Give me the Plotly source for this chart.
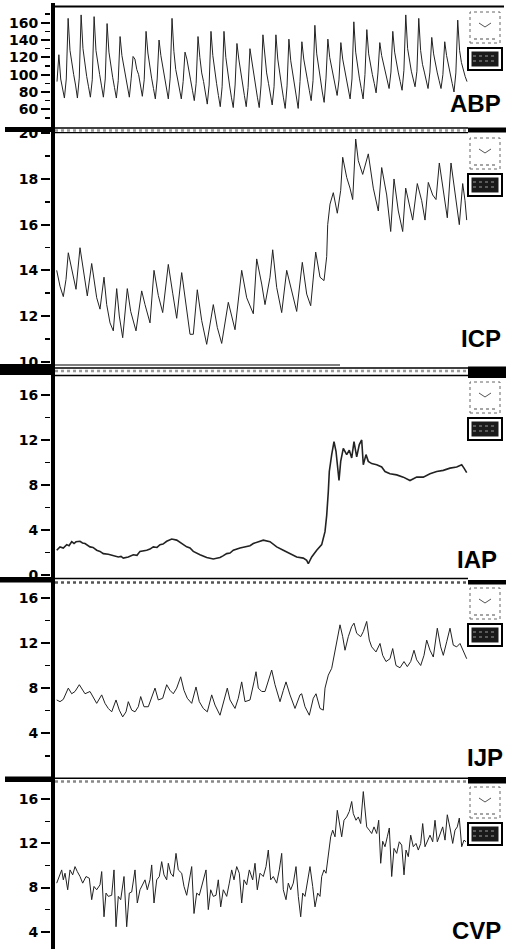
import numpy as np
import plotly.graph_objects as go

W, H = 506, 949

# ---------------- data ----------------
# ABP: evenly sampled pulse waveform, 5 samples of a partial first beat then 7 per beat
abp_values = [
    92, 123, 95, 82, 73,
    95, 165, 128, 112, 100, 88, 73,
    96, 169, 130, 110, 98, 86, 74,
    94, 167, 128, 112, 100, 87, 74,
    95, 159, 126, 108, 97, 85, 73,
    93, 144, 122, 110, 99, 86, 74,
    96, 121, 118, 106, 100, 88, 75,
    94, 150, 125, 108, 96, 84, 72,
    95, 140, 122, 110, 98, 85, 72,
    96, 165, 127, 106, 95, 83, 72,
    92, 126, 118, 104, 94, 82, 70,
    90, 144, 120, 102, 92, 80, 66,
    88, 150, 122, 104, 90, 76, 63,
    86, 150, 120, 100, 88, 74, 62,
    88, 136, 118, 102, 90, 76, 63,
    85, 130, 115, 100, 88, 74, 62,
    88, 146, 120, 102, 90, 77, 65,
    86, 146, 118, 100, 88, 74, 61,
    87, 141, 116, 101, 89, 75, 61,
    92, 138, 118, 104, 94, 82, 70,
    93, 157, 124, 106, 95, 80, 68,
    96, 141, 120, 108, 98, 86, 76,
    94, 137, 118, 106, 96, 84, 72,
    95, 161, 126, 108, 96, 84, 72,
    100, 152, 124, 110, 100, 90, 79,
    102, 137, 122, 112, 104, 94, 84,
    103, 150, 126, 112, 102, 92, 82,
    105, 169, 130, 114, 104, 95, 86,
    104, 165, 128, 112, 103, 93, 84,
    103, 143, 124, 112, 102, 93, 84,
    100, 138, 122, 110, 100, 90, 80,
    102, 163, 128, 114, 104, 98, 92,
]
abp_t_start, abp_t_end = 2, 412

# (time, value) samples
icp_samples = [
    (1.7, 14.0), (5, 13.3), (8.3, 12.85), (11, 13.6), (13.3, 14.77), (16.7, 14.0), (19, 13.6),
    (21, 13.17), (25, 14.99), (28.3, 14.0), (32.3, 12.88), (36.7, 14.3), (39.3, 13.5), (41.7, 12.8),
    (45, 12.3), (49, 13.7), (51.7, 12.5), (55, 11.7), (58.3, 11.35), (61.7, 13.2), (64.3, 12.0),
    (67.7, 11.05), (72.3, 13.2), (75.7, 12.2), (81, 11.35), (86.7, 13.1), (90, 12.5), (95, 11.7),
    (99, 14.0), (103.3, 12.9), (107.7, 12.15), (113.3, 14.26), (117.7, 13.0), (121.7, 11.9),
    (126.7, 13.9), (131, 12.5), (135, 11.2), (138.3, 11.2), (142.3, 13.15), (146.7, 11.8),
    (151.7, 10.76), (158.3, 12.5), (162.3, 11.5), (166.7, 10.8), (173.3, 12.6), (176.7, 12.0),
    (180, 11.4), (186.7, 14.0), (191.7, 12.8), (198.3, 12.1), (201.7, 14.5), (206.7, 13.4),
    (210, 12.5), (215, 13.7), (217.7, 14.9), (221.7, 13.25), (226.7, 12.15), (231.7, 14.0),
    (236.7, 13.1), (241.7, 12.2), (247.3, 14.35), (251.7, 12.96), (255.7, 12.45), (260.7, 14.8),
    (265, 13.7), (269, 13.55), (271.7, 14.6), (272.7, 16.0), (275, 16.9), (278.3, 17.4),
    (282.3, 16.5), (285.7, 17.5), (287.7, 18.95), (291.7, 18.07), (295, 17.6), (297.7, 17.1),
    (300.7, 19.75), (303.3, 18.8), (307.7, 18.2), (313.3, 19.1), (318.3, 17.6), (323.3, 16.6),
    (326.7, 18.5), (331.7, 17.3), (335.7, 15.7), (339, 18.0), (343.3, 16.6), (347.7, 15.7),
    (350.7, 17.6), (354.3, 16.8), (357.7, 16.2), (362.3, 17.8), (366.7, 17.05), (370, 16.2),
    (373.3, 17.85), (377.7, 17.3), (381, 17.1), (384.3, 18.7), (388.3, 17.5), (392.3, 16.3),
    (396, 18.7), (400, 17.5), (404.3, 16.0), (407.7, 17.8), (410, 17.05), (411.7, 16.2),
]

iap_samples = [
    (1.7, 2.2), (5, 2.5), (8.3, 2.4), (11.7, 2.7), (14, 2.6), (16.7, 2.96), (19, 2.8), (21, 2.95),
    (25, 3.0), (27.5, 2.85), (30, 2.8), (35, 2.5), (38, 2.45), (41.7, 2.2), (45, 2.1), (48.3, 1.9),
    (53.3, 1.85), (58.3, 1.7), (63.3, 1.6), (66, 1.65), (68.3, 1.5), (73.3, 1.6), (78.3, 1.8),
    (82, 1.75), (85, 2.1), (91.7, 2.2), (95, 2.3), (98.3, 2.5), (102, 2.45), (105, 2.7), (108, 2.75),
    (111.7, 3.0), (116.7, 3.2), (121.7, 3.1), (126.7, 2.8), (131.7, 2.5), (135, 2.4), (138.3, 2.1),
    (145, 1.8), (151.7, 1.55), (158.3, 1.42), (165, 1.55), (168, 1.7), (171.7, 1.9), (175, 1.95),
    (178.3, 2.2), (185, 2.4), (191.7, 2.5), (195, 2.6), (198.3, 2.8), (203.3, 2.96), (208.3, 3.1),
    (215, 2.96), (221.7, 2.5), (228.3, 2.2), (235, 1.9), (241.7, 1.6), (248.3, 1.5), (251.7, 1.3),
    (253.3, 1.0), (256.7, 1.6), (261.7, 2.2), (266.7, 2.7), (270, 3.85), (271.7, 5.3), (273.3, 7.4),
    (274.3, 9.2), (276.7, 10.7), (279, 11.85), (281, 11.0), (282.3, 9.5), (284, 8.4), (285.7, 10.1),
    (288.3, 11.26), (291.7, 10.7), (294.3, 11.1), (296.7, 10.4), (299, 11.85), (301.7, 10.5),
    (304.3, 11.6), (306.7, 12.0), (308.3, 9.8), (311, 10.7), (313.3, 10.1), (316.7, 9.9),
    (321.7, 9.8), (326.7, 9.6), (330, 9.2), (335, 9.0), (341.7, 8.9), (348.3, 8.7), (355, 8.4),
    (361.7, 8.7), (368.3, 8.7), (375, 9.0), (381.7, 9.2), (388.3, 9.3), (395, 9.5), (401.7, 9.6),
    (406.7, 9.8), (409, 9.5), (411.7, 9.1),
]

ijp_samples = [
    (1.7, 6.95), (5, 6.8), (8.3, 7.0), (11.7, 7.8), (13.3, 8.0), (16.7, 7.5), (20, 7.7), (24.3, 8.3),
    (26.7, 8.0), (30, 7.5), (35, 7.7), (38.3, 7.2), (41.7, 6.65), (46.7, 7.4), (50, 6.65), (53.3, 6.2),
    (56.7, 5.9), (61, 6.95), (64.3, 6.05), (67.7, 5.45), (71, 5.9), (73.3, 6.8), (76.7, 6.05),
    (80, 5.9), (83.3, 6.35), (85.7, 7.25), (89, 6.35), (93.3, 6.35), (97.7, 7.4), (100, 8.0),
    (103.3, 6.95), (107.7, 7.1), (111.7, 8.3), (115, 7.8), (118.3, 7.5), (121.7, 8.0), (125.7, 9.0),
    (129, 7.8), (132.3, 7.1), (136.7, 6.65), (141, 8.1), (144.3, 6.8), (148.3, 6.2), (152.3, 5.9),
    (156.7, 7.4), (160, 6.5), (165, 5.6), (170, 7.1), (172.3, 8.0), (175, 6.95), (180, 6.2),
    (183.3, 7.1), (186.7, 8.55), (190, 6.8), (195, 6.95), (199, 8.55), (201, 9.45), (203.3, 8.0),
    (206.7, 7.7), (210, 7.7), (213.3, 8.55), (216.7, 9.6), (220, 8.3), (225, 6.8), (228.3, 7.8),
    (231, 8.55), (235, 7.4), (240, 6.2), (245, 7.4), (246.7, 7.5), (250, 6.35), (254.3, 5.6),
    (258.3, 7.1), (261, 7.5), (265, 6.2), (268.3, 6.05), (270, 8.0), (273.3, 9.15), (276.7, 9.75),
    (280, 11.35), (282.3, 12.1), (285, 13.6), (287.7, 12.55), (290, 11.35), (293.3, 12.55),
    (296.7, 13.45), (299, 13.75), (301.7, 12.85), (305.7, 12.55), (308.3, 13.0), (311.7, 13.9),
    (314.3, 12.25), (316.7, 11.65), (321, 11.2), (325, 11.95), (327.7, 10.9), (331, 10.35),
    (335, 10.6), (337.7, 11.5), (341, 10.0), (345, 9.8), (349, 10.35), (352.3, 9.9), (355.7, 10.35),
    (359, 11.35), (361.7, 10.5), (365.7, 10.0), (369, 10.9), (371.7, 12.25), (375, 11.35),
    (378.3, 10.75), (382.3, 13.3), (385.7, 11.65), (388.3, 10.9), (391.7, 12.1), (395, 13.3),
    (398.3, 11.8), (401.7, 11.65), (405, 11.95), (408.3, 11.2), (411.7, 10.6),
]

cvp_samples = [
    (1.7, 8.4), (4.3, 9.0), (6.7, 9.6), (8.3, 8.7), (10, 9.3), (12.7, 7.8), (15, 9.6), (17.7, 9.15),
    (20, 9.9), (22.3, 9.45), (25, 9.0), (27.7, 8.4), (31, 9.0), (34.3, 8.85), (36.7, 6.9), (39, 8.1),
    (41.7, 7.8), (45, 8.25), (46.7, 9.45), (49, 5.35), (51, 7.5), (53.3, 7.2), (56.7, 7.3), (59, 9.6),
    (61, 4.45), (63.3, 7.2), (65.7, 6.9), (69, 9.0), (71.7, 4.45), (74.3, 7.5), (76.7, 7.6), (80, 9.6),
    (82.3, 6.6), (85, 7.8), (87.7, 8.25), (90, 8.7), (92.3, 7.8), (95, 8.7), (96.7, 10.05), (99, 6.6),
    (101.7, 8.7), (104.3, 9.0), (106.7, 10.35), (109, 9.15), (111.7, 8.7), (113.3, 10.2),
    (115.7, 9.3), (118.3, 9.0), (121, 11.1), (123.3, 9.6), (126.7, 9.3), (129, 8.1), (131.7, 7.3),
    (134.3, 8.55), (136.7, 9.9), (139, 5.65), (141.7, 7.5), (144.3, 7.3), (147.7, 8.4), (151, 9.6),
    (153.3, 6.0), (155.7, 7.8), (158.3, 7.2), (161, 7.3), (163.3, 8.7), (165.7, 6.25), (168.3, 7.8),
    (171.7, 7.2), (174.3, 8.4), (176.7, 9.6), (179, 8.7), (181.7, 9.9), (184.3, 9.3), (186.7, 6.6),
    (189, 8.7), (191.7, 8.25), (194.3, 9.6), (197.7, 8.7), (200, 10.2), (202.3, 7.8), (205, 9.3),
    (208.3, 9.0), (211, 9.9), (213.3, 11.4), (215.7, 8.7), (218.3, 9.0), (221.7, 8.4), (224.3, 9.6),
    (226.7, 11.1), (228.3, 7.8), (231, 6.9), (233.3, 8.4), (235.7, 7.8), (238.3, 8.4), (241, 9.9),
    (243.3, 7.2), (245.7, 5.35), (247.7, 7.5), (250, 7.2), (252.3, 8.4), (255, 9.9), (257.7, 8.1),
    (260, 6.25), (262.7, 7.5), (265, 7.2), (266.7, 9.0), (269, 9.6), (271, 9.3), (273.3, 11.1),
    (275.7, 12.6), (277.7, 13.2), (280, 12.6), (282.3, 15.0), (284.3, 13.8), (286.7, 12.6),
    (289, 14.1), (291.7, 14.4), (294.3, 14.9), (296.7, 15.8), (298.3, 14.7), (301, 14.1),
    (303.3, 14.4), (305.7, 13.8), (308.3, 16.7), (310, 14.7), (311.7, 13.5), (314.3, 13.2),
    (316.7, 12.9), (319, 13.5), (321.7, 12.9), (323.7, 14.1), (325.7, 10.2), (327.7, 12.2),
    (330, 11.7), (332.3, 12.6), (334.3, 13.4), (336.7, 9.0), (339, 11.55), (341.7, 11.1),
    (344.3, 12.15), (346.7, 11.85), (349, 9.15), (351, 11.4), (353.3, 10.8), (355.7, 12.75),
    (358.3, 11.7), (361, 12.0), (363.3, 11.4), (365.7, 12.0), (367.7, 13.8), (370, 11.7),
    (372.3, 12.15), (375, 12.75), (377.7, 12.15), (380, 14.1), (382.3, 12.15), (385, 12.9),
    (387.7, 13.5), (390, 12.3), (392.3, 14.6), (395, 13.4), (397.7, 12.0), (400, 13.2),
    (402.3, 13.5), (404.3, 14.3), (406.7, 11.7), (409, 12.3), (411, 12.15),
]

abp_ticks = [60, 80, 100, 120, 140, 160]
abp_minor = [50, 70, 90, 110, 130, 150, 170]
icp_ticks = [10, 12, 14, 16, 18, 20]
icp_minor = [11, 13, 15, 17, 19]
iap_ticks = [0, 4, 8, 12, 16]
iap_minor = [2, 6, 10, 14]
ijp_ticks = [4, 8, 12, 16]
ijp_minor = [2, 6, 10, 14]
cvp_ticks = [4, 8, 12, 16]
cvp_minor = [6, 10, 14]

labels = ["ABP", "ICP", "IAP", "IJP", "CVP"]

# ---------------- layout helpers ----------------
def X(px):
    return px / W

def Y(py):
    return 1 - py / H

abp_t = np.linspace(abp_t_start, abp_t_end, len(abp_values))
series = [
    (abp_t, abp_values),
    tuple(map(list, zip(*icp_samples))),
    tuple(map(list, zip(*iap_samples))),
    tuple(map(list, zip(*ijp_samples))),
    tuple(map(list, zip(*cvp_samples))),
]

# panel geometry (pixels): top, bottom, calibration (value_a, px_a, value_b, px_b)
panels = [
    dict(top=7, bottom=127.5, cal=(160, 22.7, 60, 109.3), ticks=abp_ticks, minor=abp_minor,
         lab_y=103.5, lab_x=503, width=1.0),
    dict(top=132.5, bottom=364.5, cal=(20, 133.3, 10, 361.7), ticks=icp_ticks, minor=icp_minor,
         lab_y=338.5, lab_x=503, width=1.0),
    dict(top=375, bottom=578, cal=(16, 395, 0, 575), ticks=iap_ticks, minor=iap_minor,
         lab_y=559, lab_x=499, width=1.6),
    dict(top=581, bottom=778, cal=(16, 597.7, 4, 733.3), ticks=ijp_ticks, minor=ijp_minor,
         lab_y=757.5, lab_x=505, width=1.0),
    dict(top=781, bottom=949, cal=(16, 799.3, 4, 931.7), ticks=cvp_ticks, minor=cvp_minor,
         lab_y=930, lab_x=503, width=1.0),
]

X0, X1 = 51, 468           # plot area in px
T0 = 55                    # time 0 at this px

fig = go.Figure()
layout = dict(
    width=W, height=H, margin=dict(l=0, r=0, t=0, b=0, autoexpand=False),
    paper_bgcolor="white", plot_bgcolor="white", showlegend=False,
)

tickfont = dict(family="DejaVu Sans", size=14, color="black", weight="bold")

for i, (p, (t, v)) in enumerate(zip(panels, series)):
    n = "" if i == 0 else str(i + 1)
    va, pa, vb, pb = p["cal"]
    k = (pb - pa) / (va - vb)
    ytop = va + (pa - p["top"]) / k
    ybot = vb - (p["bottom"] - pb) / k
    fig.add_trace(go.Scatter(
        x=t, y=v, mode="lines", xaxis="x" + n, yaxis="y" + n,
        line=dict(color="#222222", width=p["width"]), hoverinfo="skip",
    ))
    layout["xaxis" + n] = dict(
        domain=[X(X0), X(X1)], range=[X0 - T0, X1 - T0], visible=False,
        anchor="y" + n, fixedrange=True,
    )
    layout["yaxis" + n] = dict(
        domain=[Y(p["bottom"]), Y(p["top"])], range=[ybot, ytop], anchor="x" + n,
        showgrid=False, zeroline=False, showline=False, automargin=False,
        tickmode="array", tickvals=p["ticks"], ticks="outside", ticklen=9,
        tickwidth=2, tickcolor="black", tickfont=tickfont,
        minor=dict(tickmode="array", tickvals=p["minor"], ticks="outside", ticklen=5,
                   tickwidth=1.5, tickcolor="black", showgrid=False),
    )

shapes = []

def rect(x0, y0, x1, y1, fill="black", lc=None, lw=0, dash="solid"):
    shapes.append(dict(type="rect", xref="paper", yref="paper", x0=X(x0), x1=X(x1),
                       y0=Y(y1), y1=Y(y0), fillcolor=fill, layer="above",
                       line=dict(color=lc or fill, width=lw, dash=dash)))

def hline(y, x0, x1, w=1.5, color="black", dash="solid"):
    shapes.append(dict(type="line", xref="paper", yref="paper", x0=X(x0), x1=X(x1),
                       y0=Y(y), y1=Y(y), layer="above",
                       line=dict(color=color, width=w, dash=dash)))

# left axis spine
rect(51, 3, 55, 949)
# top frame line
hline(6.5, 51, 504, 2)

# ABP / ICP separator
rect(5, 127, 55, 132)
hline(128, 55, 468, 1.5)
hline(130.5, 55, 468, 2.5, "#9a9a9a", "dot")
hline(132.7, 55, 468, 1.2)
rect(468, 127.5, 506, 132.5)

# ICP / IAP separator
rect(0, 364, 55, 375)
hline(365, 55, 340, 1.2)
hline(368, 55, 468, 1.5)
hline(371, 55, 468, 2.5, "#9a9a9a", "dot")
hline(375.5, 55, 468, 1.5)
rect(468, 366.5, 506, 378)

# IAP / IJP separator
rect(0, 577, 55, 582.5)
hline(578.5, 55, 468, 1.5)
hline(582.5, 55, 506, 2.5, "#555555", "dot")
rect(468, 580, 506, 584.5)

# IJP / CVP separator
rect(5, 776.5, 55, 782)
hline(778.3, 55, 468, 1.5)
hline(781.5, 55, 468, 2.5, "#888888", "dot")
rect(468, 777, 506, 783.5)

# icons on the right of every panel
icon_tops = [12, 138, 382, 588, 787]
for top in icon_tops:
    rect(470, top, 500, top + 31, fill="white", lc="#666666", lw=1, dash="dot")
    cx, cy = 485, top + 11
    shapes.append(dict(type="path", xref="paper", yref="paper", layer="above",
                       path=f"M {X(cx-6)},{Y(cy)} L {X(cx)},{Y(cy+4)} L {X(cx+6)},{Y(cy)}",
                       line=dict(color="#555555", width=1)))
    hline(top + 27, 474, 496, 1.5, "#888888", "dot")
    b0 = top + 36
    rect(468, b0, 502, b0 + 22, fill="white", lc="black", lw=2)
    rect(471.5, b0 + 3.5, 498.5, b0 + 18.5, fill="#1a1a1a", lc="#1a1a1a", lw=0)
    hline(b0 + 8, 473, 497, 1.2, "#9a9a9a", "dot")
    hline(b0 + 13, 473, 497, 1.2, "#9a9a9a", "dot")

layout["shapes"] = shapes

annotations = []
for p, lab in zip(panels, labels):
    annotations.append(dict(
        text=lab, xref="paper", yref="paper", x=X(p["lab_x"]), y=Y(p["lab_y"]),
        xanchor="right", yanchor="middle", showarrow=False,
        font=dict(family="Liberation Sans", size=24, color="black", weight="bold"),
    ))
layout["annotations"] = annotations

fig.update_layout(**layout)
fig.write_html(
    "out.html",
    config={"staticPlot": True},
    post_script="document.body.style.margin='0';document.body.style.padding='0';"
                "document.body.style.overflow='hidden';"
                "document.documentElement.style.overflow='hidden';",
)
